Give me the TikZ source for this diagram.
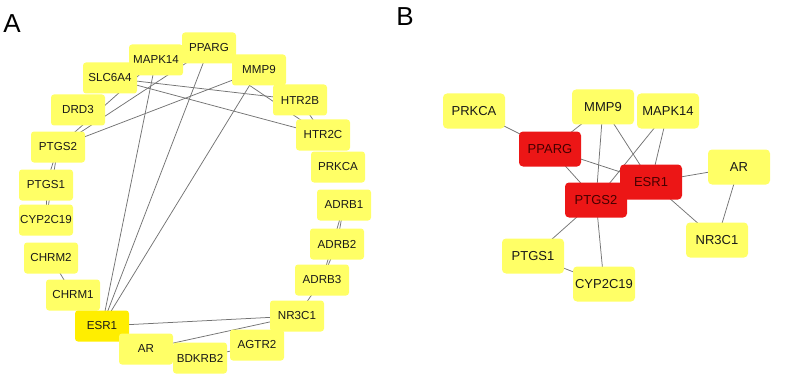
\documentclass[tikz,border=0pt]{standalone}
\usepackage{fontspec}
\setmainfont{Liberation Sans}
\usetikzlibrary{backgrounds}
\definecolor{paleY}{RGB}{255,255,102}
\definecolor{hubY}{RGB}{255,238,0}
\definecolor{hubR}{RGB}{236,22,22}
\definecolor{edgeC}{RGB}{115,115,115}
\definecolor{txtC}{RGB}{25,25,25}
\tikzset{
  anode/.style={rectangle, rounded corners=3pt, fill=paleY, minimum width=54pt, minimum height=31pt, inner sep=0pt, text=txtC, font=\fontsize{11.6}{12}\selectfont},
  ahub/.style={anode, fill=hubY},
  bnode/.style={rectangle, rounded corners=4pt, fill=paleY, minimum width=62pt, minimum height=35pt, inner sep=0pt, text=txtC, font=\fontsize{13}{14}\selectfont},
  bhub/.style={bnode, fill=hubR, text={rgb,255:red,70;green,0;blue,0}},
  link/.style={draw=edgeC, line width=0.75pt},
  panel/.style={font=\fontsize{26}{28}\selectfont, text=black, inner sep=0pt}
}
\begin{document}
\begin{tikzpicture}[x=1pt,y=-1pt]
\useasboundingbox (0,0) rectangle (789,385);
\node[panel] (lblA) at (12,24) {A};
\node[panel] (lblB) at (405,17) {B};
% Panel A nodes
\node[anode] (aPPARG) at (209,48) {PPARG};
\node[anode] (aMAPK14) at (156,60) {MAPK14};
\node[anode] (aSLC6A4) at (110,78) {SLC6A4};
\node[anode] (aMMP9) at (259,70) {MMP9};
\node[anode] (aHTR2B) at (300,100) {HTR2B};
\node[anode] (aDRD3) at (78,110) {DRD3};
\node[anode] (aHTR2C) at (323,135) {HTR2C};
\node[anode] (aPTGS2) at (58,147) {PTGS2};
\node[anode] (aPRKCA) at (338,167) {PRKCA};
\node[anode] (aPTGS1) at (46,185) {PTGS1};
\node[anode] (aADRB1) at (344,205) {ADRB1};
\node[anode] (aCYP) at (46,220) {CYP2C19};
\node[anode] (aADRB2) at (337,244) {ADRB2};
\node[anode] (aCHRM2) at (51,258) {CHRM2};
\node[anode] (aADRB3) at (322,280) {ADRB3};
\node[anode] (aCHRM1) at (73,295) {CHRM1};
\node[anode] (aNR3C1) at (297,316) {NR3C1};
\node[ahub] (aESR1) at (102,326) {ESR1};
\node[anode] (aAR) at (146,349) {AR};
\node[anode] (aAGTR2) at (257,345) {AGTR2};
\node[anode] (aBDKRB2) at (200,358) {BDKRB2};
% Panel B nodes
\node[bnode] (bPRKCA) at (474,111) {PRKCA};
\node[bnode] (bMMP9) at (603,107) {MMP9};
\node[bnode] (bMAPK14) at (668,111) {MAPK14};
\node[bhub] (bPPARG) at (550,149) {PPARG};
\node[bnode] (bAR) at (739,167) {AR};
\node[bhub] (bESR1) at (651,182) {ESR1};
\node[bhub] (bPTGS2) at (596,200) {PTGS2};
\node[bnode] (bNR3C1) at (717,240) {NR3C1};
\node[bnode] (bPTGS1) at (533,256) {PTGS1};
\node[bnode] (bCYP) at (604,284) {CYP2C19};
\begin{scope}[on background layer]
% Panel A edges
\draw[link] (aSLC6A4.center) -- (aHTR2B.center);
\draw[link] (aSLC6A4.center) -- (aHTR2C.center);
\draw[link] (aMMP9.center) -- (aPTGS2.center);
\draw[link] ([xshift=-9pt]aMMP9.south) -- (aHTR2C.center);
\draw[link] (aMMP9.center) -- (aESR1.center);
\draw[link] (aPPARG.center) -- (aMMP9.center);
\draw[link] (aPPARG.center) -- (aESR1.center);
\draw[link] (aPPARG.center) -- (aPTGS2.center);
\draw[link] (aMAPK14.center) -- (aESR1.center);
\draw[link] (aMAPK14.center) -- (aPTGS2.center);
\draw[link] (aHTR2B.center) -- (aHTR2C.center);
\draw[link] (aESR1.center) -- (aNR3C1.center);
\draw[link] (aESR1.center) -- (aAR.center);
\draw[link] (aAR.center) -- (aNR3C1.center);
\draw[link] (aPTGS2.center) -- (aPTGS1.center);
\draw[link] (aPTGS2.center) -- (aCYP.center);
\draw[link] (aPTGS1.center) -- (aCYP.center);
\draw[link] (aCHRM2.center) -- (aCHRM1.center);
\draw[link] (aADRB1.center) -- (aADRB2.center);
\draw[link] (aADRB1.center) -- (aADRB3.center);
\draw[link] (aADRB2.center) -- (aADRB3.center);
\draw[link] (aADRB3.center) -- (aNR3C1.center);
\draw[link] (aAGTR2.center) -- (aBDKRB2.center);
% Panel B edges
\draw[link] (bPRKCA.center) -- (bPPARG.center);
\draw[link] (bMMP9.center) -- (bPPARG.center);
\draw[link] (bMMP9.center) -- (bPTGS2.center);
\draw[link] (bMMP9.center) -- (bESR1.center);
\draw[link] (bMAPK14.center) -- (bPTGS2.center);
\draw[link] (bMAPK14.center) -- (bESR1.center);
\draw[link] (bPPARG.center) -- (bESR1.center);
\draw[link] (bPPARG.center) -- (bPTGS2.center);
\draw[link] (bESR1.center) -- (bAR.center);
\draw[link] (bESR1.center) -- (bNR3C1.center);
\draw[link] (bAR.center) -- (bNR3C1.center);
\draw[link] (bPTGS2.center) -- (bPTGS1.center);
\draw[link] (bPTGS2.center) -- (bCYP.center);
\draw[link] (bPTGS1.center) -- (bCYP.center);
\end{scope}
\end{tikzpicture}
\end{document}
